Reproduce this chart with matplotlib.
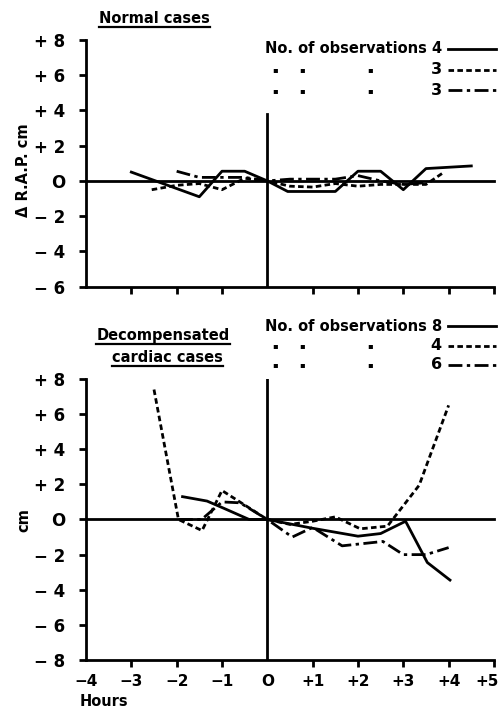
import matplotlib
matplotlib.use("Agg")
import matplotlib.pyplot as plt
from matplotlib.lines import Line2D
from matplotlib.transforms import ScaledTranslation

# ---------------- data ----------------
# Normal cases
n_solid_x = [-3.0, -1.5, -1.0, -0.5, 0.0, 0.45, 1.5, 2.0, 2.5, 3.0, 3.5, 4.5]
n_solid_y = [0.5, -0.9, 0.55, 0.55, 0.0, -0.6, -0.6, 0.55, 0.55, -0.5, 0.7, 0.85]
n_dash_x = [-2.55, -2.0, -1.5, -1.0, -0.5, 0.0, 0.5, 1.0, 1.5, 2.0, 2.5, 3.0, 3.5, 3.9]
n_dash_y = [-0.5, -0.25, -0.15, -0.5, 0.15, 0.0, -0.3, -0.35, -0.15, -0.3, -0.2, -0.2, -0.2, 0.5]
n_dd_x = [-2.0, -1.5, -1.0, -0.5, 0.0, 0.5, 1.0, 1.5, 2.0, 2.5, 3.0, 3.5]
n_dd_y = [0.55, 0.2, 0.2, 0.2, 0.0, 0.1, 0.1, 0.1, 0.3, 0.0, -0.2, -0.1]

# Decompensated cardiac cases
d_solid_x = [-1.87, -1.33, -0.97, -0.4, 0.0, 1.0, 2.0, 2.5, 3.05, 3.53, 4.03]
d_solid_y = [1.3, 1.05, 0.65, 0.0, 0.0, -0.5, -0.95, -0.8, -0.1, -2.45, -3.45]
d_dash_x = [-2.5, -1.96, -1.44, -1.0, 0.0, 0.5, 1.0, 1.5, 2.05, 2.65, 3.35, 4.0]
d_dash_y = [7.4, 0.0, -0.63, 1.65, 0.0, -0.28, -0.1, 0.15, -0.53, -0.38, 1.95, 6.5]
d_dd_x = [-1.95, -1.45, -1.0, -0.6, 0.0, 0.55, 1.0, 1.65, 2.55, 3.0, 3.5, 4.0]
d_dd_y = [0.0, 0.0, 1.0, 0.95, 0.0, -1.0, -0.45, -1.5, -1.25, -2.0, -2.0, -1.6]

x_ticks = [-4, -3, -2, -1, 0, 1, 2, 3, 4, 5]
x_labels = ["\u22124", "\u22123", "\u22122", "\u22121", "O", "+1", "+2", "+3", "+4", "+5"]
top_yticks = [-6, -4, -2, 0, 2, 4, 6, 8]
top_ylabels = ["\u2212 6", "\u2212 4", "\u2212 2", "O", "+ 2", "+ 4", "+ 6", "+ 8"]
bot_yticks = [-8, -6, -4, -2, 0, 2, 4, 6, 8]
bot_ylabels = ["\u2212 8", "\u2212 6", "\u2212 4", "\u2212 2", "O", "+ 2", "+ 4", "+ 6", "+ 8"]
top_counts = ["4", "3", "3"]
bot_counts = ["8", "4", "6"]

# ---------------- style ----------------
plt.rcParams['font.family'] = ['DejaVu Sans']
FS = 12
FS_T = 10.5
LW = 2.0
styles = [dict(linestyle='-'),
          dict(linestyle=(0, (2.0, 1.2))),
          dict(linestyle=(0, (5.0, 1.6, 1.2, 1.6)))]

fig = plt.figure(figsize=(5.02, 7.08), dpi=100)
ax1 = fig.add_axes([0.1713, 0.5952, 0.8127, 0.3483])
ax2 = fig.add_axes([0.1713, 0.0678, 0.8127, 0.3969])


def setup(ax, ylim, yticks, ylabels, xlabels):
    ax.set_xlim(-4, 5)
    ax.set_ylim(*ylim)
    for s in ['top', 'right']:
        ax.spines[s].set_visible(False)
    for s in ['left', 'bottom']:
        ax.spines[s].set_linewidth(LW)
    ax.set_xticks(x_ticks)
    if xlabels:
        ax.set_xticklabels(x_labels, fontsize=11, fontweight='bold')
    else:
        ax.set_xticklabels([])
    ax.set_yticks(yticks)
    ax.set_yticklabels(ylabels, fontsize=FS, fontweight='bold')
    ax.tick_params(axis='both', direction='out', length=5, width=LW, pad=5)
    ax.tick_params(axis='y', pad=10)
    ticks = ax.xaxis.get_major_ticks()
    for i, t in enumerate(x_ticks):
        if t in (-4, 0):
            ticks[i].tick1line.set_visible(False)
    ax.axhline(0, color='black', lw=LW, clip_on=False)


setup(ax1, (-6, 8), top_yticks, top_ylabels, False)
setup(ax2, (-8, 8), bot_yticks, bot_ylabels, True)
last = ax2.xaxis.get_major_ticks()[-1].label1
last.set_transform(last.get_transform() + ScaledTranslation(-5 / 72, 0, fig.dpi_scale_trans))

ax1.plot([0, 0], [-6, 3.8], color='black', lw=LW)
ax2.plot([0, 0], [-8, 8], color='black', lw=LW)

for (xs, ys), st in zip([(n_solid_x, n_solid_y), (n_dash_x, n_dash_y), (n_dd_x, n_dd_y)], styles):
    ax1.plot(xs, ys, color='black', lw=LW, **st)
for (xs, ys), st in zip([(d_solid_x, d_solid_y), (d_dash_x, d_dash_y), (d_dd_x, d_dd_y)], styles):
    ax2.plot(xs, ys, color='black', lw=LW, **st)


def legend(ax, counts, rows_y):
    for i, (c, y, st) in enumerate(zip(counts, rows_y, styles)):
        if i == 0:
            ax.text(3.85, y, "No. of observations " + c, ha='right', va='center',
                    fontsize=FS_T, fontweight='bold', clip_on=False)
        else:
            ax.text(3.85, y, c, ha='right', va='center', fontsize=FS_T + 1,
                    fontweight='bold', clip_on=False)
            for dx in (0.18, 0.77, 2.26):
                ax.text(dx, y, "\u25aa", ha='center', va='center', fontsize=6,
                        clip_on=False)
        ax.add_line(Line2D([3.98, 5.05], [y, y], color='black', lw=LW,
                           clip_on=False, **st))


legend(ax1, top_counts, [7.5, 6.3, 5.15])
legend(ax2, bot_counts, [11.0, 9.9, 8.8])

# titles
t1 = ax1.text(-2.48, 9.2, "Normal cases", ha='center', va='center',
              fontsize=FS_T, fontweight='bold', clip_on=False)
t2 = ax2.text(-2.3, 10.45, "Decompensated", ha='center', va='center',
              fontsize=FS_T, fontweight='bold', clip_on=False)
t3 = ax2.text(-2.2, 9.25, "cardiac cases", ha='center', va='center',
              fontsize=FS_T, fontweight='bold', clip_on=False)

fig.text(24 / 502, 1 - 170 / 708, "\u0394 R.A.P. cm", rotation=90, ha='center',
         va='center', fontsize=FS_T, fontweight='bold')
fig.text(24 / 502, 1 - 520 / 708, "cm", rotation=90, ha='center',
         va='center', fontsize=FS_T, fontweight='bold')
fig.text(104 / 502, 1 - 701 / 708, "Hours", ha='center', va='center',
         fontsize=FS_T, fontweight='bold')

# underline titles
fig.canvas.draw()
r = fig.canvas.get_renderer()
for t in (t1, t2, t3):
    bb = t.get_window_extent(renderer=r)
    x0, x1 = bb.x0 / fig.bbox.width, bb.x1 / fig.bbox.width
    yb = (bb.y0 - 1) / fig.bbox.height
    fig.add_artist(Line2D([x0, x1], [yb, yb], color='black', lw=1.6,
                          transform=fig.transFigure))

fig.savefig("out.png", dpi=100)
